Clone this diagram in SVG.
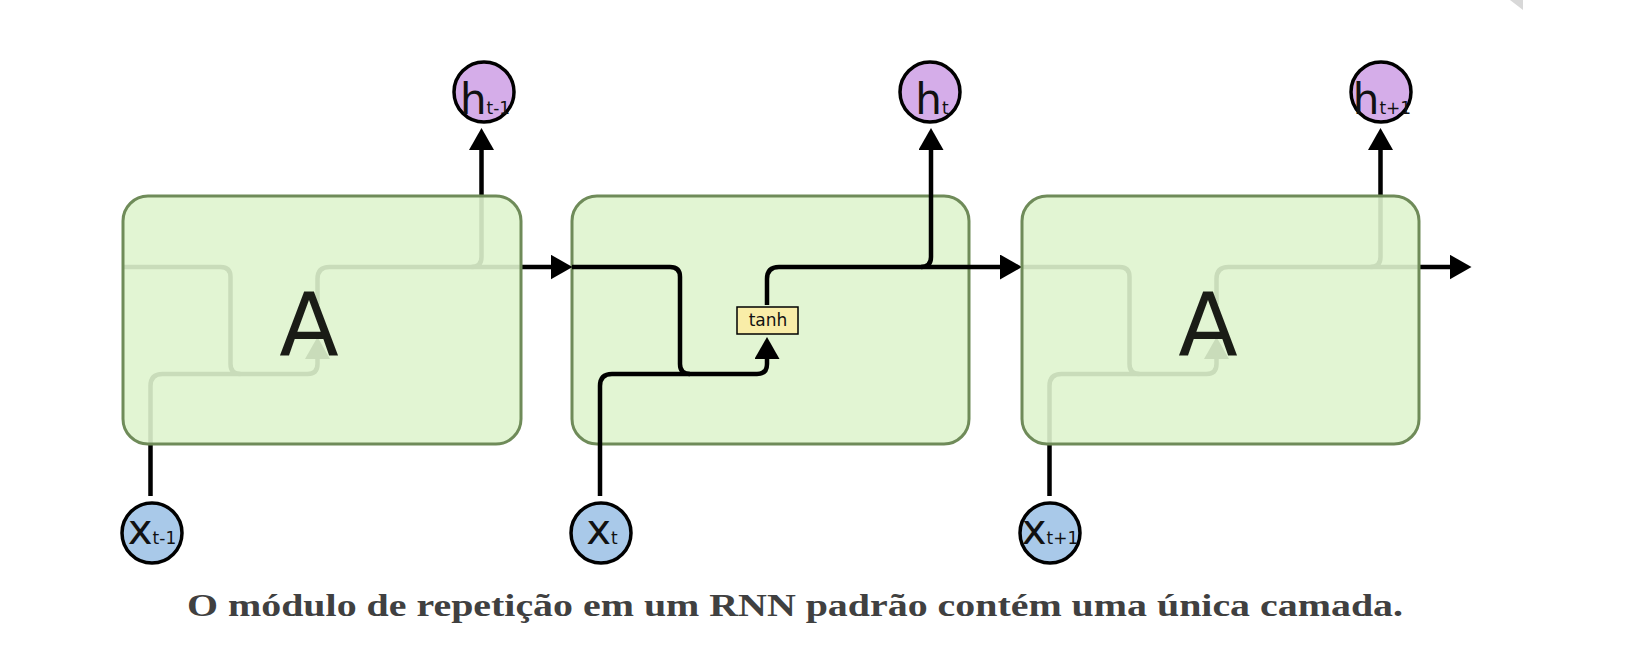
<svg xmlns="http://www.w3.org/2000/svg" xmlns:xlink="http://www.w3.org/1999/xlink" width="1648" height="664" viewBox="0 0 1648 664">
  <style>
    .box { fill: #e2f5d3; stroke: #6f8b59; stroke-width: 3; }
    .box-over { fill: #dff4ce; fill-opacity: 0.9; }
    .line { fill: none; stroke: #000; stroke-width: 4.5; stroke-linejoin: round; }
    .arrow { marker-end: url(#ah); }
    .hc { fill: #d5ade9; stroke: #000; stroke-width: 3.5; }
    .xc { fill: #a9c9e9; stroke: #000; stroke-width: 3.5; }
    .lbl { font-family: "DejaVu Sans", sans-serif; fill: #111; }
    .big { font-size: 42px; }
    .sub { font-size: 17px; }
    .A { font-family: "DejaVu Sans", sans-serif; font-size: 87px; fill: #1a1c16; text-anchor: middle; }
    .cap { font-family: "Liberation Serif", serif; font-weight: bold; font-size: 31px; fill: #404040; text-anchor: middle; }
  </style>
  <defs>
    <marker id="ah" markerUnits="userSpaceOnUse" viewBox="0 -12.5 22 25" markerWidth="22" markerHeight="25" refX="1" refY="0" orient="auto">
      <path d="M0,-12.5 L22,0 L0,12.5 z" fill="#000"/>
    </marker>
    <g id="cell-lines">
      <path class="line arrow" d="M572,267 H670 Q680,267 680,277 V364 Q680,374 690,374 H757 Q767,374 767,364 V358"/>
      <path class="line" d="M600,496 V386 Q600,374 612,374 H690"/>
      <path class="line arrow" d="M767,305 V279 Q767,267 779,267 H1001"/>
      <path class="line arrow" d="M921,267 Q931,267 931,257 V149"/>
    </g>
  </defs>

  <polygon points="1510,0 1523,0 1523,10" fill="#d8d8d8"/>

  <g id="cell-t">
    <rect class="box" x="572" y="196" width="397" height="248" rx="25" ry="25"/>
  </g>

  <g id="connectors">
    <use xlink:href="#cell-lines" transform="translate(-449.5,0)"/>
    <use xlink:href="#cell-lines"/>
    <use xlink:href="#cell-lines" transform="translate(449.5,0)"/>
  </g>

  <g id="tanh">
    <rect x="737" y="307" width="61" height="27" fill="#f9eda8" stroke="#000" stroke-width="1.5"/>
    <text class="lbl" x="768" y="326" font-size="17" text-anchor="middle">tanh</text>
  </g>

  <g id="cell-t-1">
    <rect class="box box-over" x="123" y="196" width="398" height="248" rx="25" ry="25"/>
    <text class="A" x="309" y="355">A</text>
  </g>

  <g id="cell-t+1">
    <rect class="box box-over" x="1022" y="196" width="397" height="248" rx="25" ry="25"/>
    <text class="A" x="1208" y="355">A</text>
  </g>

  <g id="h-t-1">
    <circle class="hc" cx="484" cy="92" r="30"/>
    <text class="lbl" x="485" y="114" text-anchor="middle"><tspan class="big">h</tspan><tspan class="sub">t-1</tspan></text>
  </g>
  <g id="h-t">
    <circle class="hc" cx="930" cy="92" r="30"/>
    <text class="lbl" x="932" y="114" text-anchor="middle"><tspan class="big">h</tspan><tspan class="sub">t</tspan></text>
  </g>
  <g id="h-t+1">
    <circle class="hc" cx="1381" cy="92" r="30"/>
    <text class="lbl" x="1382" y="114" text-anchor="middle"><tspan class="big">h</tspan><tspan class="sub">t+1</tspan></text>
  </g>

  <g id="x-t-1">
    <circle class="xc" cx="152" cy="533" r="30"/>
    <text class="lbl" x="152" y="544" text-anchor="middle"><tspan class="big">x</tspan><tspan class="sub">t-1</tspan></text>
  </g>
  <g id="x-t">
    <circle class="xc" cx="601" cy="533" r="30"/>
    <text class="lbl" x="602" y="544" text-anchor="middle"><tspan class="big">x</tspan><tspan class="sub">t</tspan></text>
  </g>
  <g id="x-t+1">
    <circle class="xc" cx="1050" cy="533" r="30"/>
    <text class="lbl" x="1050" y="544" text-anchor="middle"><tspan class="big">x</tspan><tspan class="sub">t+1</tspan></text>
  </g>

  <text class="cap" x="795" y="616" textLength="1216" lengthAdjust="spacingAndGlyphs">O módulo de repetição em um RNN padrão contém uma única camada.</text>
</svg>
